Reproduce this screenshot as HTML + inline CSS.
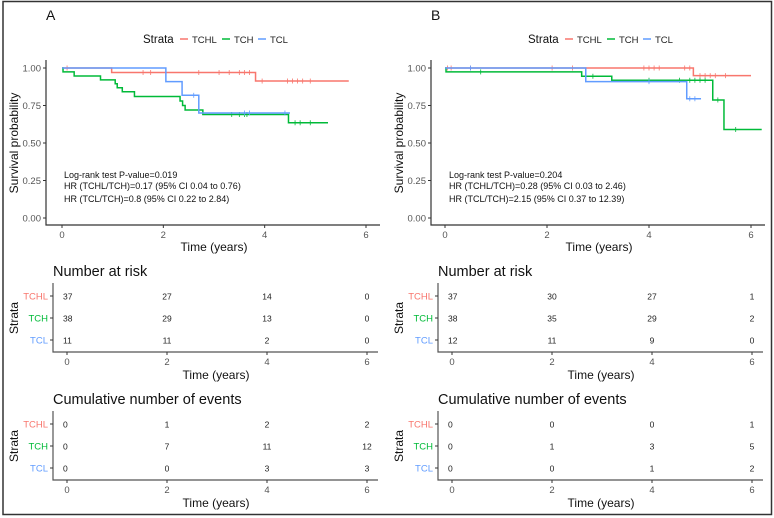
<!DOCTYPE html>
<html><head><meta charset="utf-8"><style>
html,body{margin:0;padding:0;background:#fff;}
svg{display:block;font-family:"Liberation Sans",sans-serif;}
</style></head><body>
<svg id="fig" width="774" height="518" viewBox="0 0 774 518" xmlns="http://www.w3.org/2000/svg">
<rect x="3" y="1.5" width="768.5" height="513" fill="none" stroke="#333" stroke-width="1.5"/>
</svg>
<script>
const strataNames = ["TCHL", "TCH", "TCL"];
const strataColors = ["#F8766D", "#00BA38", "#619CFF"];
const xTicks = [0, 2, 4, 6];
const yTicks = [0, 0.25, 0.5, 0.75, 1];
const yTickLabels = ["0.00", "0.25", "0.50", "0.75", "1.00"];
// Panel A steps: times of drops and survival after drop
const aTCHLTimes = [0.98, 3.82];
const aTCHLSurv = [0.97, 0.913];
const aTCHLEnd = 5.66;
const aTCHLCens = [0.1, 1.6, 1.75, 2.7, 3.1, 3.3, 3.5, 3.6, 3.7, 3.95, 4.45, 4.55, 4.65, 4.75, 4.9];
const aTCHTimes = [0.02, 0.24, 0.76, 1.05, 1.09, 1.19, 1.43, 2.33, 2.38, 2.43, 2.78, 4.47];
const aTCHSurv = [0.974, 0.947, 0.921, 0.895, 0.868, 0.842, 0.81, 0.78, 0.75, 0.72, 0.69, 0.635];
const aTCHEnd = 5.25;
const aTCHCens = [3.35, 3.5, 3.6, 3.65, 4.6, 4.7, 4.9];
const aTCLTimes = [2.05, 2.37, 2.70];
const aTCLSurv = [0.909, 0.818, 0.70];
const aTCLEnd = 4.5;
const aTCLCens = [2.6, 3.6, 3.7, 4.4];
// Panel B
const bTCHLTimes = [4.87];
const bTCHLSurv = [0.949];
const bTCHLEnd = 6.0;
const bTCHLCens = [0.05, 0.12, 0.5, 2.1, 2.5, 3.9, 4.0, 4.1, 4.2, 4.7, 4.8, 5.0, 5.1, 5.2, 5.3, 5.5];
const bTCHTimes = [0.02, 2.68, 3.27, 5.25, 5.47];
const bTCHSurv = [0.974, 0.945, 0.918, 0.787, 0.59];
const bTCHEnd = 6.21;
const bTCHCens = [0.7, 2.9, 4.0, 4.6, 4.8, 4.9, 5.0, 5.1, 5.35, 5.7];
const bTCLTimes = [2.76, 4.74];
const bTCLSurv = [0.909, 0.795];
const bTCLEnd = 5.02;
const bTCLCens = [0.5, 4.0, 4.8, 4.9];
// Tables
const aRisk = [[37, 27, 14, 0], [38, 29, 13, 0], [11, 11, 2, 0]];
const aEvents = [[0, 1, 2, 2], [0, 7, 11, 12], [0, 0, 3, 3]];
const bRisk = [[37, 30, 27, 1], [38, 35, 29, 2], [12, 11, 9, 0]];
const bEvents = [[0, 0, 0, 1], [0, 1, 3, 5], [0, 0, 1, 2]];
const aNotes = ["Log-rank test P-value=0.019", "HR (TCHL/TCH)=0.17 (95% CI 0.04 to 0.76)", "HR (TCL/TCH)=0.8 (95% CI 0.22 to 2.84)"];
const bNotes = ["Log-rank test P-value=0.204", "HR (TCHL/TCH)=0.28 (95% CI 0.03 to 2.46)", "HR (TCL/TCH)=2.15 (95% CI 0.37 to 12.39)"];

const NS = "http://www.w3.org/2000/svg";
const svg = document.getElementById("fig");
function mk(tag, attrs, parent, text) {
  const e = document.createElementNS(NS, tag);
  for (const k in attrs) e.setAttribute(k, attrs[k]);
  if (text !== undefined) e.textContent = text;
  (parent || svg).appendChild(e);
  return e;
}

function panel(off, letter, x0, x6, curves, notes, risk, events) {
  const g = mk("g", {});
  
  
  const sx = t => x0 + (x6 - x0) * t / 6;
  const sy = s => 218 - 150 * s;
  let t = mk("text", {x: off + 46, y: 20, "font-size": 14, fill: "#111"}, g, letter);
  
  
  // legend
  const lg = mk("g", {}, g);
  
  
  mk("text", {x: off + 143, y: 43, "font-size": 11.5, fill: "#111"}, lg, "Strata");
  const lx = [180, 222, 258];
  strataNames.forEach((n, i) => {
    const it = mk("g", {}, lg);
    
    
    mk("line", {x1: off + lx[i], x2: off + lx[i] + 8, y1: 39, y2: 39, stroke: strataColors[i], "stroke-width": 1.5}, it);
    mk("text", {x: off + lx[i] + 12, y: 43, "font-size": 9.5, fill: "#222"}, it, n);
  });
  // axes
  const ax = mk("g", {}, g);
  
  
  mk("polyline", {points: `${off + 46},60 ${off + 46},225 ${off + 380},225`, fill: "none", stroke: "#333", "stroke-width": 1.2}, ax);
  yTicks.forEach((v, i) => {
    mk("line", {x1: off + 43, x2: off + 46, y1: sy(v), y2: sy(v), stroke: "#333"}, ax);
    mk("text", {x: off + 41, y: sy(v) + 3.5, "font-size": 9.5, fill: "#555", "text-anchor": "end"}, ax, yTickLabels[i]);
  });
  xTicks.forEach(v => {
    mk("line", {x1: sx(v), x2: sx(v), y1: 225, y2: 228, stroke: "#333"}, ax);
    mk("text", {x: sx(v), y: 238, "font-size": 9.5, fill: "#555", "text-anchor": "middle"}, ax, String(v));
  });
  mk("text", {x: off + 214, y: 251, "font-size": 12, fill: "#111", "text-anchor": "middle"}, ax, "Time (years)");
  mk("text", {x: 0, y: 0, "font-size": 12, fill: "#111", "text-anchor": "middle", transform: `translate(${off + 18},143) rotate(-90)`}, ax, "Survival probability");
  // curves
  curves.forEach((c, i) => {
    const cg = mk("g", {}, g);
    
    
    let pts = [[sx(0), sy(1)]];
    let s = 1;
    c.times.forEach((tt, k) => {
      pts.push([sx(tt), sy(s)]);
      s = c.surv[k];
      pts.push([sx(tt), sy(s)]);
    });
    pts.push([sx(c.end), sy(s)]);
    mk("polyline", {points: pts.map(p => p.join(",")).join(" "), fill: "none", stroke: strataColors[i], "stroke-width": 1.5}, cg);
    c.cens.forEach(ct => {
      let sv = 1;
      c.times.forEach((tt, k) => { if (tt <= ct) sv = c.surv[k]; });
      mk("line", {x1: sx(ct), x2: sx(ct), y1: sy(sv) - 2.5, y2: sy(sv) + 2.5, stroke: strataColors[i], "stroke-width": 0.8}, cg);
    });
  });
  // notes
  notes.forEach((n, i) => {
    const nt = mk("text", {x: off + 64, y: [178, 189, 202][i], "font-size": 9, fill: "#111"}, g, n);
    
    
  });
  // tables
  const tx = v => off + 67 + 50 * v;
  [[risk, "Number at risk", 260], [events, "Cumulative number of events", 388]].forEach(([tbl, title, top], ti) => {
    const tg = mk("g", {}, g);
    
    
    mk("text", {x: off + 53, y: top + 16, "font-size": 14.5, fill: "#111"}, tg, title);
    mk("polyline", {points: `${off + 53},${top + 23} ${off + 53},${top + 92} ${off + 378},${top + 92}`, fill: "none", stroke: "#555", "stroke-width": 1.2}, tg);
    strataNames.forEach((n, r) => {
      const yy = top + 36 + 22 * r;
      mk("line", {x1: off + 50, x2: off + 53, y1: yy, y2: yy, stroke: "#333"}, tg);
      mk("text", {x: off + 48, y: yy + 3.5, "font-size": 9.5, fill: strataColors[r], "text-anchor": "end"}, tg, n);
      tbl[r].forEach((v, k) => {
        mk("text", {x: tx(xTicks[k]), y: yy + 3.5, "font-size": 8.5, fill: "#222", "text-anchor": k === 0 ? "start" : "middle", dx: k === 0 ? -4 : 0}, tg, String(v));
      });
    });
    xTicks.forEach(v => {
      mk("line", {x1: tx(v), x2: tx(v), y1: top + 92, y2: top + 95, stroke: "#333"}, tg);
      mk("text", {x: tx(v), y: top + 105, "font-size": 9.5, fill: "#555", "text-anchor": "middle"}, tg, String(v));
    });
    mk("text", {x: off + 216, y: top + 119, "font-size": 12, fill: "#111", "text-anchor": "middle"}, tg, "Time (years)");
    mk("text", {x: 0, y: 0, "font-size": 12, fill: "#111", "text-anchor": "middle", transform: `translate(${off + 18},${top + 58}) rotate(-90)`}, tg, "Strata");
  });
}

panel(0, "A", 62, 366, [
  {times: aTCHLTimes, surv: aTCHLSurv, end: aTCHLEnd, cens: aTCHLCens},
  {times: aTCHTimes, surv: aTCHSurv, end: aTCHEnd, cens: aTCHCens},
  {times: aTCLTimes, surv: aTCLSurv, end: aTCLEnd, cens: aTCLCens}
], aNotes, aRisk, aEvents);
panel(385, "B", 445, 751, [
  {times: bTCHLTimes, surv: bTCHLSurv, end: bTCHLEnd, cens: bTCHLCens},
  {times: bTCHTimes, surv: bTCHSurv, end: bTCHEnd, cens: bTCHCens},
  {times: bTCLTimes, surv: bTCLSurv, end: bTCLEnd, cens: bTCLCens}
], bNotes, bRisk, bEvents);
</script>
</body></html>
